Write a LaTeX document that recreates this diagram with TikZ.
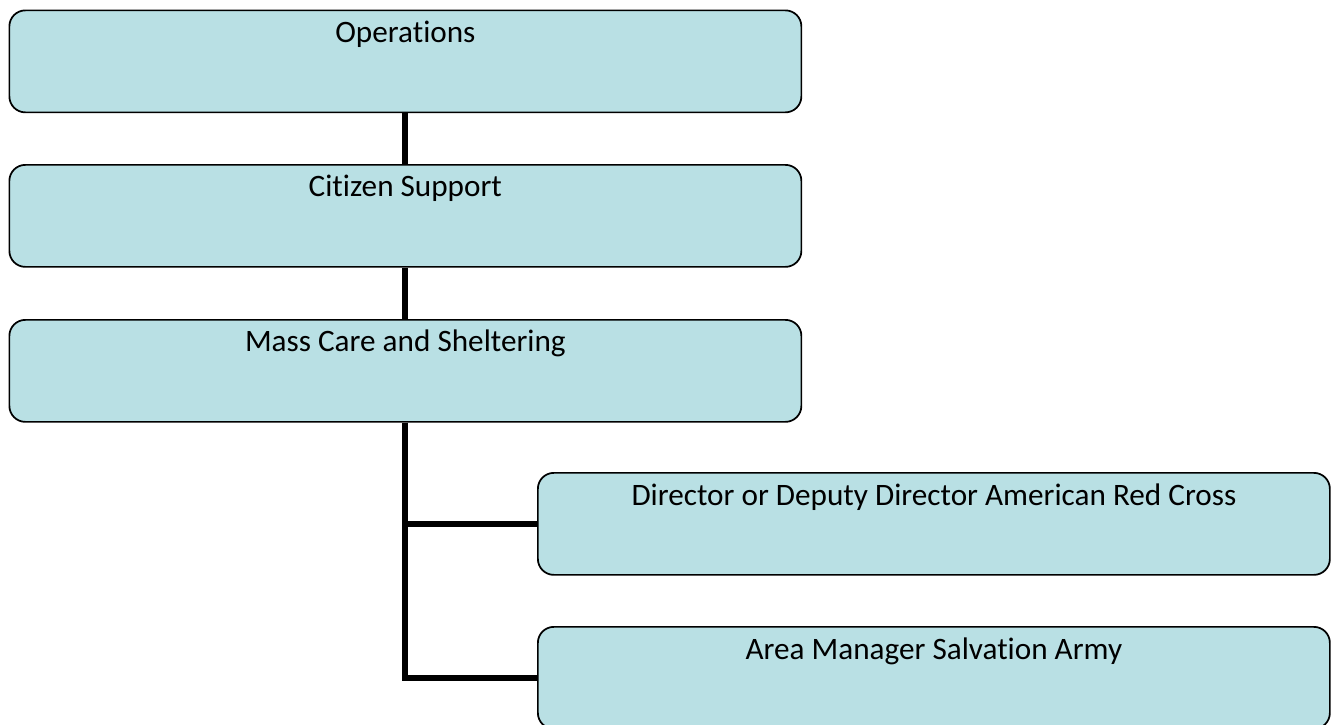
\documentclass[tikz,border=0pt]{standalone}
\usepackage{fontspec}
\setmainfont{Carlito}[Ligatures={NoCommon}]
\definecolor{boxfill}{RGB}{185,224,228}
\tikzset{
  orgbox/.style={draw=black, line width=1.3pt, fill=boxfill, rounded corners=12pt,
    minimum width=594pt, minimum height=76.5pt, inner sep=0pt, anchor=north west},
  boxtext/.style={anchor=base, font=\fontsize{23.4pt}{28pt}\selectfont, inner sep=0pt},
  conn/.style={line width=4.5pt}
}
\begin{document}
\begin{tikzpicture}[x=0.75pt,y=-0.75pt]
\useasboundingbox (0,0) rectangle (1336,725);
\node[orgbox] (op) at (8.5,9.5) {};
\node[orgbox] (cs) at (8.5,164) {};
\node[orgbox] (mc) at (8.5,319) {};
\node[orgbox] (dir) at (537,472) {};
\node[orgbox] (am) at (537,626) {};
\node[boxtext] (t1) at ([yshift=-24.5pt]op.north) {Operations};
\node[boxtext] (t2) at ([yshift=-24.5pt]cs.north) {Citizen Support};
\node[boxtext] (t3) at ([yshift=-24.5pt]mc.north) {Mass Care and Sheltering};
\node[boxtext] (t4) at ([yshift=-25pt]dir.north) {Director or Deputy Director American Red Cross};
\node[boxtext] (t5) at ([yshift=-25pt]am.north) {Area Manager Salvation Army};
\draw[conn] (op.south) -- (cs.north);
\draw[conn] (cs.south) -- (mc.north);
\draw[conn] (mc.south) |- (dir.west);
\draw[conn] (mc.south) |- (am.west);
\end{tikzpicture}
\end{document}
